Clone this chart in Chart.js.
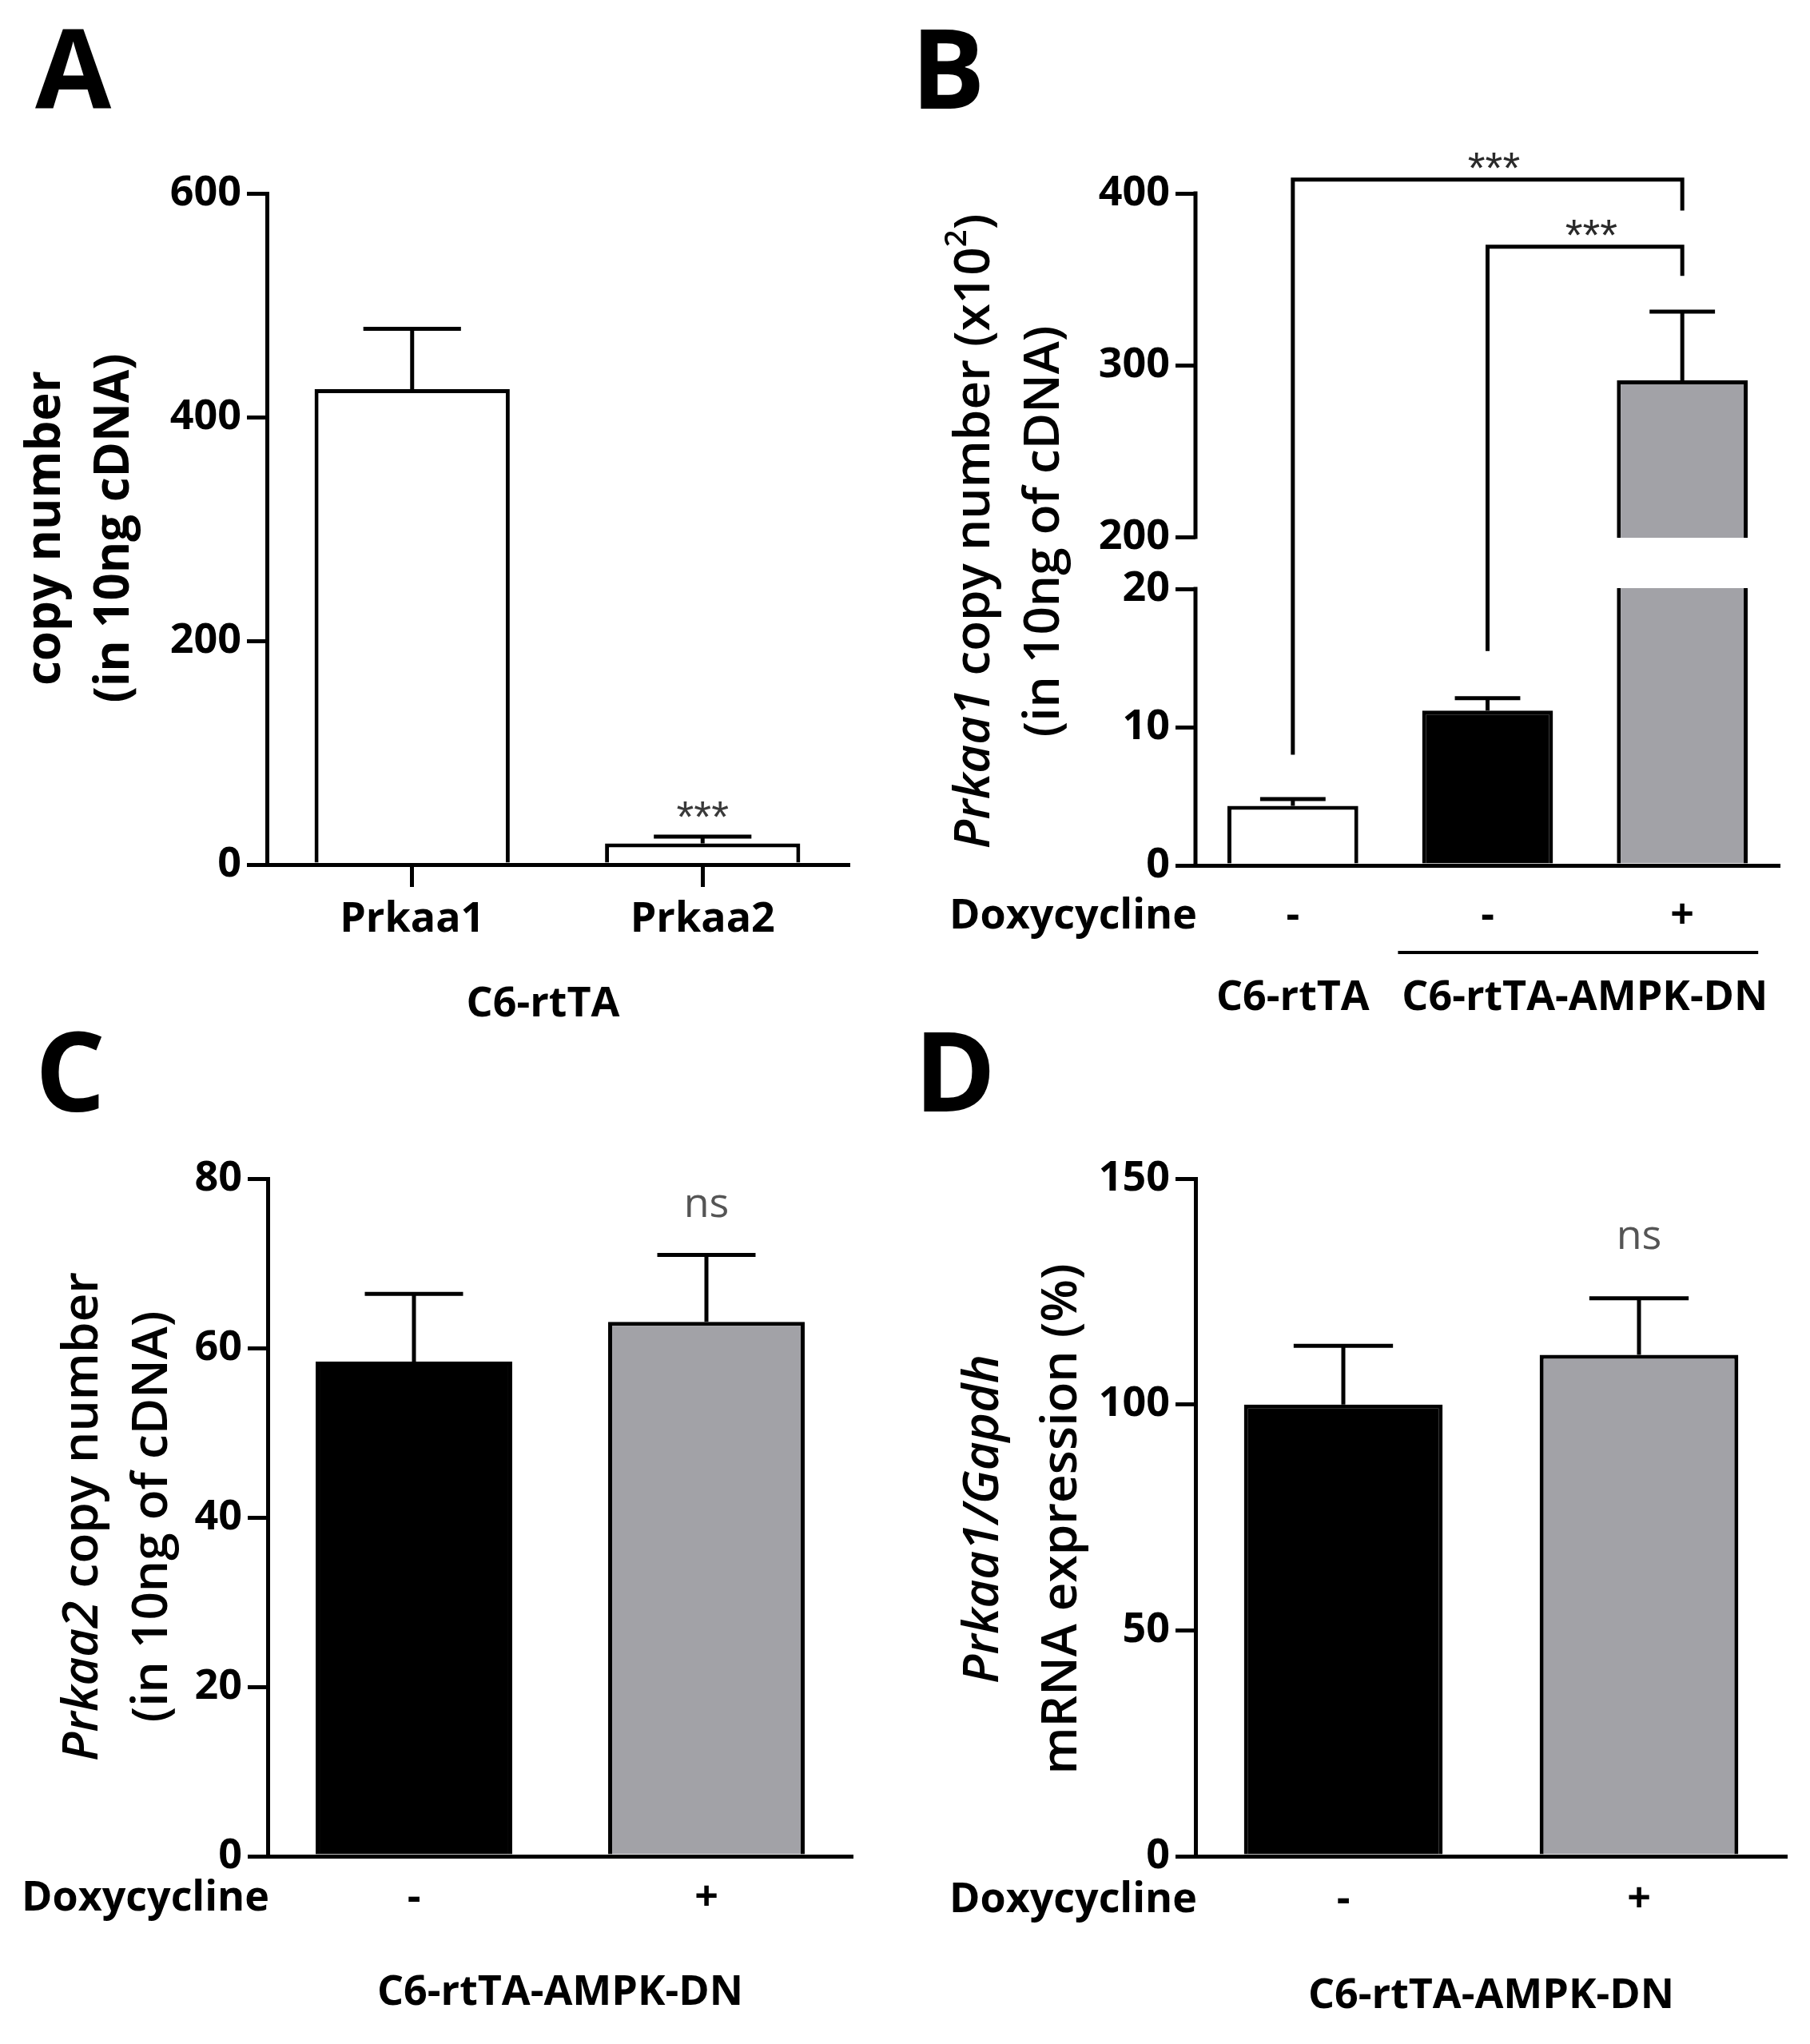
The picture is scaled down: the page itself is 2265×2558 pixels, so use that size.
<!DOCTYPE html>
<html><head><meta charset="utf-8">
<script src="https://cdn.jsdelivr.net/npm/chart.js@4.4.1/dist/chart.umd.min.js"></script>
<style>
html,body{margin:0;padding:0;background:#fff;}
#wrap{position:relative;width:2265px;height:2558px;background:#fff;overflow:hidden;}
canvas{position:absolute;}
</style></head><body>
<div id="wrap">
<canvas id="cA" width="1132" height="1279" style="left:0px;top:0px"></canvas>
<canvas id="cB" width="1133" height="1279" style="left:1132px;top:0px"></canvas>
<canvas id="cC" width="1132" height="1279" style="left:0px;top:1279px"></canvas>
<canvas id="cD" width="1133" height="1279" style="left:1132px;top:1279px"></canvas>
</div>
<script>
// ---------------- DATA ----------------
// Panel A
const aCategories = ['Prkaa1', 'Prkaa2'];
const aMeans = [425, 19];
const aSEM = [54, 6];
const aTickValues = [0, 200, 400, 600];
const aSignif = ['', '***'];
const aGroupLabel = 'C6-rtTA';

// Panel B (broken y axis)
const bDoxycycline = ['-', '-', '+'];
const bMeans = [4.3, 11.2, 291.2];
const bSEM = [0.5, 0.9, 40];
const bTickValues = [0, 10, 20, 200, 300, 400];
const bAxisBreak = [20, 200];
const bGroupLabels = ['C6-rtTA', 'C6-rtTA-AMPK-DN'];
const bGroupFirst = [0, 1];
const bGroupLast = [0, 2];
const bBracketFrom = [0, 1];
const bBracketTo = [2, 2];
const bBracketLevel = [408, 369];
const bBracketFromEnd = [8.0, 15.5];
const bBracketToEnd = [390, 352];
const bBracketLabels = ['***', '***'];

// Panel C
const cDoxycycline = ['-', '+'];
const cMeans = [58.4, 63.1];
const cSEM = [8.0, 7.9];
const cTickValues = [0, 20, 40, 60, 80];
const cSignif = ['', 'ns'];
const cGroupLabel = 'C6-rtTA-AMPK-DN';

// Panel D
const dDoxycycline = ['-', '+'];
const dMeans = [100, 111];
const dSEM = [13, 12.5];
const dTickValues = [0, 50, 100, 150];
const dSignif = ['', 'ns'];
const dGroupLabel = 'C6-rtTA-AMPK-DN';

// ---------------- STYLE ----------------
const FONT = "'Open Sans', 'DejaVu Sans', sans-serif";
const LW = 5;
const GREY = '#a2a2a7';
const TITLE_W = '600';
Chart.defaults.font.family = FONT;
Chart.defaults.color = '#000';

// ---------------- broken linear scale ----------------
const BREAK_LOW_FRAC = 0.4114, BREAK_GAP_FRAC = 0.0773;
class BrokenLinearScale extends Chart.LinearScale {
  _frac(v) {
    const lo = bAxisBreak[0], hi = bAxisBreak[1];
    const fl = BREAK_LOW_FRAC, fg = BREAK_GAP_FRAC, fh = 1 - fl - fg;
    if (v <= lo) return (v - this.min) / (lo - this.min) * fl;
    if (v <= hi) return fl + (v - lo) / (hi - lo) * fg;
    return fl + fg + (v - hi) / (this.max - hi) * fh;
  }
  getPixelForValue(v) {
    return this.bottom - this._frac(v) * (this.bottom - this.top);
  }
  getValueForPixel(p) {
    const f = (this.bottom - p) / (this.bottom - this.top);
    const lo = bAxisBreak[0], hi = bAxisBreak[1];
    const fl = BREAK_LOW_FRAC, fg = BREAK_GAP_FRAC, fh = 1 - fl - fg;
    if (f <= fl) return this.min + f / fl * (lo - this.min);
    if (f <= fl + fg) return lo + (f - fl) / fg * (hi - lo);
    return hi + (f - fl - fg) / fh * (this.max - hi);
  }
}
BrokenLinearScale.id = 'brokenLinear';
BrokenLinearScale.defaults = Chart.LinearScale.defaults;
Chart.register(BrokenLinearScale);

// ---------------- helpers ----------------
function yAxis(area, tickVals, min, max, type, borderOn) {
  return {
    type: type, min: min, max: max,
    afterFit: s => { s.width = area.left; },
    afterBuildTicks: s => { s.ticks = tickVals.map(v => ({ value: v })); },
    border: { display: borderOn, color: '#000', width: LW },
    grid: { display: true, drawOnChartArea: false, drawTicks: true, tickLength: 25, lineWidth: LW, color: '#000' },
    ticks: { font: { size: 52, weight: 'bold' }, color: '#000', padding: 7, callback: v => String(v) }
  };
}
function xAxis(area, H, pad, withTicks) {
  return {
    afterFit: s => { s.height = H - area.bottom; },
    offset: true,
    border: { display: true, color: '#000', width: LW },
    grid: withTicks
      ? { display: true, offset: false, drawOnChartArea: false, drawTicks: true, tickLength: 28, lineWidth: LW, color: '#000' }
      : { display: false, drawTicks: false },
    ticks: { font: { size: 52, weight: 'bold' }, color: '#000', padding: pad, autoSkip: false, maxRotation: 0 }
  };
}
function drawRich(ctx, segs, cx, cy, size, rot) {
  ctx.save();
  ctx.translate(cx, cy); ctx.rotate(rot);
  ctx.textBaseline = 'middle'; ctx.textAlign = 'left'; ctx.fillStyle = '#000';
  const parts = segs.map(s => {
    const sz = s.sup ? size * 0.62 : size;
    const font = (s.italic ? 'italic ' : '') + (s.weight || TITLE_W) + ' ' + sz + 'px ' + FONT;
    ctx.font = font;
    return { t: s.text, font: font, w: ctx.measureText(s.text).width, dy: s.sup ? -size * 0.36 : 0 };
  });
  const total = parts.reduce((a, p) => a + p.w, 0);
  let x = -total / 2;
  parts.forEach(p => { ctx.font = p.font; ctx.fillText(p.t, x, p.dy); x += p.w; });
  ctx.restore();
}
function drawErrors(chart, sem) {
  const meta = chart.getDatasetMeta(0), y = chart.scales.y, ctx = chart.ctx;
  const vals = chart.data.datasets[0].data;
  ctx.save(); ctx.strokeStyle = '#000'; ctx.lineWidth = LW; ctx.lineCap = 'butt';
  meta.data.forEach((bar, i) => {
    if (!sem[i]) return;
    const top = y.getPixelForValue(vals[i] + sem[i]);
    const half = bar.width * 0.25;
    ctx.beginPath();
    ctx.moveTo(bar.x, bar.y); ctx.lineTo(bar.x, top);
    ctx.moveTo(bar.x - half, top); ctx.lineTo(bar.x + half, top);
    ctx.stroke();
  });
  ctx.restore();
}
function drawSignif(chart, labels, sem, offset, font, color) {
  const meta = chart.getDatasetMeta(0), y = chart.scales.y, ctx = chart.ctx;
  const vals = chart.data.datasets[0].data;
  ctx.save(); ctx.fillStyle = color; ctx.font = font; ctx.textAlign = 'center'; ctx.textBaseline = 'alphabetic';
  meta.data.forEach((bar, i) => {
    if (!labels[i]) return;
    ctx.fillText(labels[i], bar.x, y.getPixelForValue(vals[i] + sem[i]) - offset);
  });
  ctx.restore();
}
function drawLetter(ctx, letter, x, baseline) {
  ctx.save(); ctx.fillStyle = '#000'; ctx.font = 'bold 138px ' + FONT;
  ctx.textAlign = 'left'; ctx.textBaseline = 'alphabetic';
  ctx.fillText(letter, x, baseline); ctx.restore();
}
function drawRowLabel(chart, text, pad) {
  const ctx = chart.ctx, xs = chart.scales.x;
  ctx.save(); ctx.fillStyle = '#000'; ctx.font = 'bold 52px ' + FONT;
  ctx.textAlign = 'right'; ctx.textBaseline = 'middle';
  ctx.fillText(text, chart.chartArea.left + 2, xs.top + pad + 52 * 1.2 / 2);
  ctx.restore();
}
function drawCentered(ctx, text, x, y) {
  ctx.save(); ctx.fillStyle = '#000'; ctx.font = 'bold 52px ' + FONT;
  ctx.textAlign = 'center'; ctx.textBaseline = 'middle';
  ctx.fillText(text, x, y); ctx.restore();
}
function barDataset(values, colors) {
  return { data: values, backgroundColor: colors, borderColor: '#000', borderWidth: LW,
           barPercentage: 0.672, categoryPercentage: 1, borderSkipped: 'start' };
}
function baseOptions(area, W, H, xOpt, yOpt) {
  return {
    responsive: false, animation: false, devicePixelRatio: 1,
    layout: { padding: { left: 0, top: area.top, right: W - area.right, bottom: 0 } },
    plugins: { legend: { display: false }, tooltip: { enabled: false }, title: { display: false } },
    scales: { x: xOpt, y: yOpt }
  };
}

// ---------------- Panel A ----------------
(function () {
  const W = 1132, H = 1279, area = { left: 334, top: 242, right: 1061, bottom: 1082 };
  new Chart(document.getElementById('cA'), {
    type: 'bar',
    data: { labels: aCategories, datasets: [barDataset(aMeans, ['#fff', '#fff'])] },
    options: baseOptions(area, W, H, xAxis(area, H, 10, true), yAxis(area, aTickValues, 0, 600, 'linear', true)),
    plugins: [{ id: 'decorA', afterDatasetsDraw(chart) {
      const ctx = chart.ctx;
      drawErrors(chart, aSEM);
      drawSignif(chart, aSignif, aSEM, 6, 'normal 56px "Liberation Sans", sans-serif', '#3a3a3a');
      drawLetter(ctx, 'A', 44, 136);
      drawRich(ctx, [{ text: 'copy number', weight: 'bold' }], 58, 661, 60, -Math.PI / 2);
      drawRich(ctx, [{ text: '(in 10ng cDNA)', weight: 'bold' }], 144, 661, 60, -Math.PI / 2);
      const xs = chart.scales.x;
      drawCentered(ctx, aGroupLabel, (xs.getPixelForValue(0) + xs.getPixelForValue(1)) / 2 - 18, 1257);
    } }]
  });
})();

// ---------------- Panel B ----------------
(function () {
  const W = 1133, H = 1279, area = { left: 364, top: 242, right: 1095, bottom: 1083 };
  new Chart(document.getElementById('cB'), {
    type: 'bar',
    data: { labels: bDoxycycline, datasets: [barDataset(bMeans, ['#fff', '#000', GREY])] },
    options: baseOptions(area, W, H, xAxis(area, H, 33, false), yAxis(area, bTickValues, 0, 400, 'brokenLinear', false)),
    plugins: [{ id: 'decorB', afterDatasetsDraw(chart) {
      const ctx = chart.ctx, ca = chart.chartArea, y = chart.scales.y, xs = chart.scales.x;
      // axis break gap
      const gTop = y.getPixelForValue(bAxisBreak[1]), gBot = y.getPixelForValue(bAxisBreak[0]);
      ctx.save(); ctx.fillStyle = '#fff';
      ctx.fillRect(ca.left + LW, gTop + 1, ca.right - ca.left - LW, gBot - gTop - 2);
      // broken y axis line
      ctx.strokeStyle = '#000'; ctx.lineWidth = LW; ctx.lineCap = 'butt';
      ctx.beginPath();
      ctx.moveTo(ca.left, y.getPixelForValue(0) + LW / 2); ctx.lineTo(ca.left, gBot - LW / 2);
      ctx.moveTo(ca.left, gTop + LW / 2); ctx.lineTo(ca.left, y.getPixelForValue(400) - LW / 2);
      ctx.stroke();
      // brackets
      ctx.lineJoin = 'miter';
      for (let i = 0; i < bBracketFrom.length; i++) {
        const x1 = xs.getPixelForValue(bBracketFrom[i]), x2 = xs.getPixelForValue(bBracketTo[i]);
        const yl = y.getPixelForValue(bBracketLevel[i]);
        ctx.beginPath();
        ctx.moveTo(x1, y.getPixelForValue(bBracketFromEnd[i]));
        ctx.lineTo(x1, yl); ctx.lineTo(x2, yl);
        ctx.lineTo(x2, y.getPixelForValue(bBracketToEnd[i]));
        ctx.stroke();
        ctx.fillStyle = '#2a2a2a'; ctx.font = 'normal 56px "Liberation Sans", sans-serif';
        ctx.textAlign = 'center'; ctx.textBaseline = 'alphabetic';
        ctx.fillText(bBracketLabels[i], (x1 + x2) / 2 + 8, yl + 4);
      }
      ctx.restore();
      drawErrors(chart, bSEM);
      drawLetter(ctx, 'B', 8, 136);
      drawRich(ctx, [{ text: 'Prkaa1', italic: true }, { text: ' copy number (x10' }, { text: '2', sup: true }, { text: ')' }], 88, 665, 62, -Math.PI / 2);
      drawRich(ctx, [{ text: '(in 10ng of cDNA)' }], 175, 665, 62, -Math.PI / 2);
      drawRowLabel(chart, 'Doxycycline', 33);
      // groups
      ctx.save(); ctx.strokeStyle = '#000'; ctx.lineWidth = 4;
      for (let g = 0; g < bGroupLabels.length; g++) {
        const xa = xs.getPixelForValue(bGroupFirst[g]), xb = xs.getPixelForValue(bGroupLast[g]);
        if (bGroupLast[g] > bGroupFirst[g]) {
          ctx.beginPath();
          ctx.moveTo(xs.getPixelForValue(bGroupFirst[g] - 0.46), 1192);
          ctx.lineTo(xs.getPixelForValue(bGroupLast[g] + 0.39), 1192);
          ctx.stroke();
        }
        drawCentered(ctx, bGroupLabels[g], (xa + xb) / 2, 1249);
      }
      ctx.restore();
    } }]
  });
})();

// ---------------- Panel C ----------------
(function () {
  const W = 1132, H = 1279, area = { left: 335, top: 196, right: 1067, bottom: 1044 };
  new Chart(document.getElementById('cC'), {
    type: 'bar',
    data: { labels: cDoxycycline, datasets: [barDataset(cMeans, ['#000', GREY])] },
    options: baseOptions(area, W, H, xAxis(area, H, 22, false), yAxis(area, cTickValues, 0, 80, 'linear', true)),
    plugins: [{ id: 'decorC', afterDatasetsDraw(chart) {
      const ctx = chart.ctx, xs = chart.scales.x;
      drawErrors(chart, cSEM);
      drawSignif(chart, cSignif, cSEM, 47, 'normal 52px ' + FONT, '#555');
      drawLetter(ctx, 'C', 44, 112);
      drawRich(ctx, [{ text: 'Prkaa2', italic: true }, { text: ' copy number' }], 104, 619, 62, -Math.PI / 2);
      drawRich(ctx, [{ text: '(in 10ng of cDNA)' }], 191, 619, 62, -Math.PI / 2);
      drawRowLabel(chart, 'Doxycycline', 22);
      drawCentered(ctx, cGroupLabel, (xs.left + xs.right) / 2, 1215);
    } }]
  });
})();

// ---------------- Panel D ----------------
(function () {
  const W = 1133, H = 1279, area = { left: 364, top: 196, right: 1104, bottom: 1044 };
  new Chart(document.getElementById('cD'), {
    type: 'bar',
    data: { labels: dDoxycycline, datasets: [barDataset(dMeans, ['#000', GREY])] },
    options: baseOptions(area, W, H, xAxis(area, H, 24, false), yAxis(area, dTickValues, 0, 150, 'linear', true)),
    plugins: [{ id: 'decorD', afterDatasetsDraw(chart) {
      const ctx = chart.ctx, xs = chart.scales.x;
      drawErrors(chart, dSEM);
      drawSignif(chart, dSignif, dSEM, 62, 'normal 52px ' + FONT, '#555');
      drawLetter(ctx, 'D', 12, 112);
      drawRich(ctx, [{ text: 'Prkaa1/Gapdh', italic: true }], 99, 622, 62, -Math.PI / 2);
      drawRich(ctx, [{ text: 'mRNA expression (%)' }], 197, 622, 62, -Math.PI / 2);
      drawRowLabel(chart, 'Doxycycline', 24);
      drawCentered(ctx, dGroupLabel, (xs.left + xs.right) / 2, 1219);
    } }]
  });
})();
</script>
</body></html>
